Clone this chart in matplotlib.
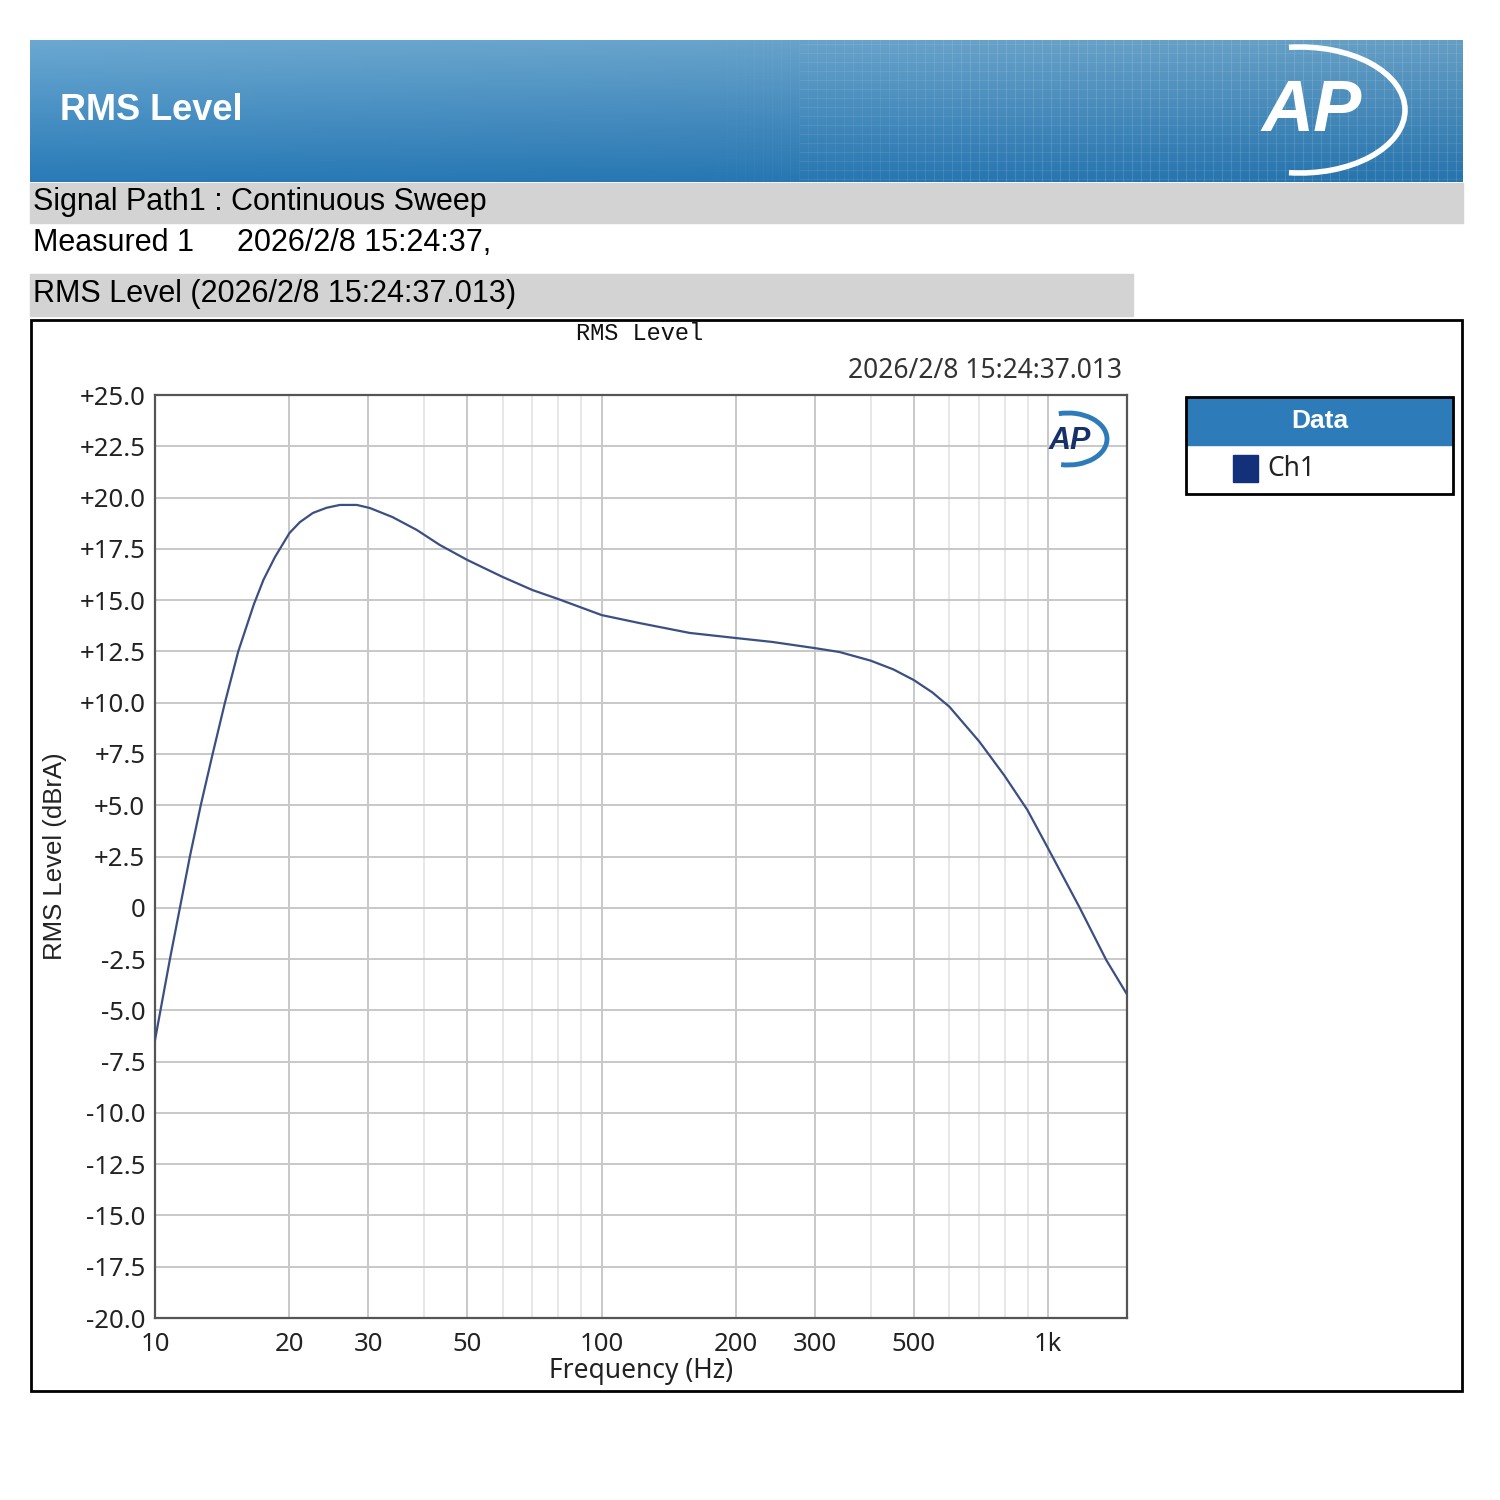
import numpy as np
import matplotlib
matplotlib.use('Agg')
import matplotlib.pyplot as plt
from matplotlib.patches import Rectangle, Arc
from matplotlib.ticker import FixedLocator, FuncFormatter

# RMS level sweep (Hz, dBrA)
freq_hz = [10.0, 10.8, 11.37, 11.97, 12.66, 13.46, 14.34, 15.36, 16.65, 17.5, 18.56,
           20.0, 21.1, 22.57, 24.2, 25.94, 28.31, 30.27, 34.0, 38.56, 43.4, 50.0,
           60.0, 70.0, 80.0, 100.0, 121.6, 157.4, 200.0, 241.0, 300.0, 340.7, 400.0,
           450.0, 500.0, 550.0, 600.5, 700.8, 797.0, 897.5, 995.0, 1173.0, 1348.0, 1494.0]
level_dbra = [-6.45, -2.5, 0.0, 2.5, 5.0, 7.5, 10.0, 12.5, 14.8, 16.0, 17.1,
              18.27, 18.8, 19.25, 19.5, 19.64, 19.64, 19.49, 19.05, 18.42, 17.69, 16.96,
              16.13, 15.49, 15.05, 14.27, 13.88, 13.4, 13.15, 12.96, 12.66, 12.47, 12.05,
              11.62, 11.1, 10.5, 9.8, 8.1, 6.45, 4.77, 2.96, 0.04, -2.55, -4.16]

x_major = [10, 20, 30, 50, 100, 200, 300, 500, 1000]
x_major_labels = ['10', '20', '30', '50', '100', '200', '300', '500', '1k']
x_minor = [40, 60, 70, 80, 90, 400, 600, 700, 800, 900]
y_ticks = np.arange(-20, 25.1, 2.5)

W = H = 1500
fig = plt.figure(figsize=(15, 15), dpi=100)
fig.patch.set_facecolor('white')

# full-figure overlay in pixel coordinates for the report decorations
bg = fig.add_axes([0, 0, 1, 1])
bg.set_xlim(0, W)
bg.set_ylim(H, 0)
bg.axis('off')

# header banner gradient
top = np.array([0.42, 0.66, 0.82])
bot = np.array([0.16, 0.48, 0.72])
t = np.linspace(0, 1, 100)[:, None, None]
s = np.linspace(0, 1, 300)[None, :, None]
grad = top * (1 - t) + bot * t
grad = grad * (1 - 0.06 * s)
bg.imshow(grad, extent=(30, 1463, 182, 40), aspect='auto', zorder=1)
# faint grid texture on the right part of the banner
for gx in np.arange(700, 1463, 9):
    a = 0.12 * min(1, (gx - 700) / 300)
    bg.plot([gx, gx], [40, 182], color='white', lw=0.8, alpha=a, zorder=2)
for gy in np.arange(44, 182, 9):
    bg.plot([800, 1463], [gy, gy], color='white', lw=0.8, alpha=0.08, zorder=2)
bg.text(60, 110, 'RMS Level', color='white', fontsize=26, fontweight='bold',
        family='Liberation Sans', va='center', ha='left', zorder=3)
bg.text(1312, 112, 'AP', color='white', fontsize=52, fontweight='bold', style='italic',
        family='Liberation Sans', va='center', ha='center', zorder=3)
bg.add_patch(Arc((1300, 110), 210, 126, theta1=-100, theta2=100, color='white', lw=4, zorder=3))

# info bars
bg.add_patch(Rectangle((30, 183), 1433, 40, color='#d3d3d3', zorder=1))
bg.text(33, 202, 'Signal Path1 : Continuous Sweep', fontsize=22, family='Liberation Sans',
        va='center', ha='left', color='black', zorder=3)
bg.text(33, 243, 'Measured 1', fontsize=22, family='Liberation Sans',
        va='center', ha='left', color='black', zorder=3)
bg.text(237, 243, '2026/2/8 15:24:37,', fontsize=22, family='Liberation Sans',
        va='center', ha='left', color='black', zorder=3)
bg.add_patch(Rectangle((30, 274), 1103, 42, color='#d3d3d3', zorder=1))
bg.text(33, 294, 'RMS Level (2026/2/8 15:24:37.013)', fontsize=22, family='Liberation Sans',
        va='center', ha='left', color='black', zorder=3)

# graph frame
bg.add_patch(Rectangle((31, 320), 1431, 1071, fill=False, ec='black', lw=2, zorder=3))
bg.text(640, 333, 'RMS Level', fontsize=17, family='Liberation Mono',
        va='center', ha='center', color='#111111', zorder=3)
bg.text(1122, 371, '2026/2/8 15:24:37.013', fontsize=19, family='Noto Sans',
        va='center', ha='right', color='#333333', zorder=3)
bg.text(55, 856, 'RMS Level (dBrA)', fontsize=18.5, family='Liberation Sans', rotation=90,
        va='center', ha='center', color='#222222', zorder=3)

# legend box
bg.add_patch(Rectangle((1186, 397), 267, 48, color='#2d7bb8', zorder=2))
bg.add_patch(Rectangle((1186, 397), 267, 97, fill=False, ec='black', lw=2, zorder=3))
bg.text(1320, 421, 'Data', fontsize=19, fontweight='bold', family='Liberation Sans',
        color='white', va='center', ha='center', zorder=3)
bg.add_patch(Rectangle((1233, 455), 25, 27, color='#13307a', zorder=3))
bg.text(1267, 469, 'Ch1', fontsize=19, family='Noto Sans', color='#222222',
        va='center', ha='left', zorder=3)

# plot area
left, right, ytop, ybot = 155, 1127, 395, 1318
ax = fig.add_axes([left / W, 1 - ybot / H, (right - left) / W, (ybot - ytop) / H])
ax.set_facecolor('white')
ax.set_xscale('log')
ax.set_xlim(10, 1500)
ax.set_ylim(-20, 25)

for xv in x_minor:
    ax.axvline(xv, color='#e3e3e3', lw=1.2, zorder=1)
for xv in x_major[1:]:
    ax.axvline(xv, color='#c8c8c8', lw=1.4, zorder=1)
for yv in y_ticks[1:-1]:
    ax.axhline(yv, color='#c8c8c8', lw=1.4, zorder=1)

ax.plot(freq_hz, level_dbra, color='#3b4f82', lw=1.6, zorder=3)

ax.xaxis.set_major_locator(FixedLocator(x_major))
ax.xaxis.set_minor_locator(FixedLocator([]))
ax.set_xticklabels(x_major_labels)
ax.yaxis.set_major_locator(FixedLocator(y_ticks))


def fmt_y(v, pos):
    if abs(v) < 1e-9:
        return '0'
    if v > 0:
        return '+%.1f' % v
    return '-%.1f' % abs(v)


ax.yaxis.set_major_formatter(FuncFormatter(fmt_y))
ax.tick_params(axis='both', length=0, labelsize=18.5, labelcolor='#222222')
ax.tick_params(axis='y', pad=7)
ax.tick_params(axis='x', pad=10)
for lab in ax.get_xticklabels() + ax.get_yticklabels():
    lab.set_family('Noto Sans')
ax.set_xlabel('Frequency (Hz)', fontsize=19, family='Noto Sans', color='#222222', labelpad=0)
for sp in ax.spines.values():
    sp.set_color('#555555')
    sp.set_linewidth(1.6)

# small AP logo inside the plot, drawn on a transparent overlay on top
fg = fig.add_axes([0, 0, 1, 1])
fg.set_xlim(0, W)
fg.set_ylim(H, 0)
fg.axis('off')
fg.patch.set_alpha(0)
fg.text(1070, 441, 'AP', fontsize=22, fontweight='bold', style='italic',
        family='Liberation Sans', color='#16306a', ha='center', va='center')
fg.add_patch(Arc((1068, 439), 78, 52, theta1=-110, theta2=105, color='#2d7bb8', lw=3.5))

fig.savefig('out.png', dpi=100)
